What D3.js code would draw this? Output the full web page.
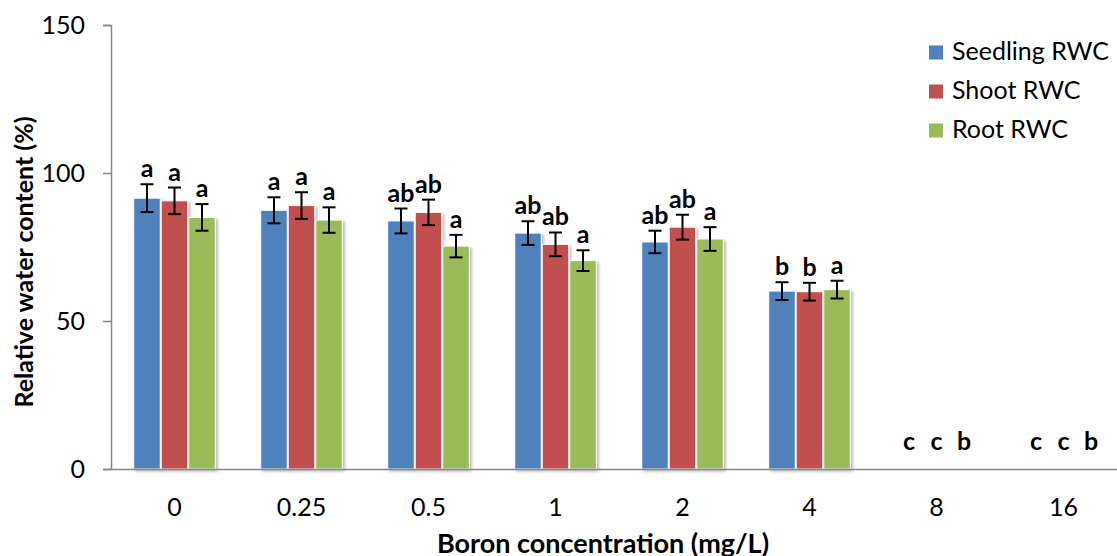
<!DOCTYPE html>
<html>
<head>
<meta charset="utf-8">
<script src="https://cdn.jsdelivr.net/npm/d3@7/dist/d3.min.js"></script>
<style>
  html, body { margin: 0; padding: 0; background: #fff; }
  svg { display: block; font-family: Lato, "Open Sans", sans-serif; }
</style>
</head>
<body>
<svg id="chart" width="1117" height="556"></svg>
<script>
// Boron concentrations (mg/L) on the x axis
const categories = ["0", "0.25", "0.5", "1", "2", "4", "8", "16"];
const seriesNames = ["Seedling RWC", "Shoot RWC", "Root RWC"];
const seriesColors = ["#4f81bd", "#c0504d", "#9bbb59"];

// Mean relative water content (%)
const seedlingRWC = [91.5, 87.4, 83.8, 79.7, 76.7, 60.1, 0, 0];
const shootRWC    = [90.6, 89.0, 86.7, 75.9, 81.7, 59.9, 0, 0];
const rootRWC     = [85.0, 84.1, 75.3, 70.4, 77.7, 60.6, 0, 0];

// Standard errors
const seedlingErr = [4.7, 4.4, 4.2, 4.0, 3.8, 3.0, 0, 0];
const shootErr    = [4.5, 4.5, 4.3, 4.0, 4.2, 3.0, 0, 0];
const rootErr     = [4.5, 4.3, 3.8, 3.5, 4.0, 3.0, 0, 0];

// Significance letters
const seedlingSig = ["a", "a", "ab", "ab", "ab", "b", "c", "c"];
const shootSig    = ["a", "a", "ab", "ab", "ab", "b", "c", "c"];
const rootSig     = ["a", "a", "a", "a", "a", "a", "b", "b"];

const yTicks = [0, 50, 100, 150];

const values = [seedlingRWC, shootRWC, rootRWC];
const errors = [seedlingErr, shootErr, rootErr];
const letters = [seedlingSig, shootSig, rootSig];

const svg = d3.select("#chart");
const plotLeft = 111, plotRight = 1127, plotTop = 25, plotBottom = 469;

const x = d3.scaleBand().domain(categories).range([plotLeft, plotRight]).paddingInner(0).paddingOuter(0);
const bw = x.bandwidth();
const xs = d3.scaleBand().domain(seriesNames).range([bw * 0.175, bw * 0.825]).padding(0);
const y = d3.scaleLinear().domain([0, 150]).range([plotBottom, plotTop]);

// soft drop shadow under bars
const defs = svg.append("defs");
const f = defs.append("filter").attr("id", "shadow").attr("x", "-20%").attr("y", "-10%").attr("width", "150%").attr("height", "130%");
f.append("feDropShadow").attr("dx", 2).attr("dy", 2).attr("stdDeviation", 1.6).attr("flood-color", "#000").attr("flood-opacity", 0.28);

// flatten into records
const records = [];
categories.forEach((c, i) => {
  seriesNames.forEach((s, j) => {
    records.push({ cat: c, series: s, j, value: values[j][i], err: errors[j][i], sig: letters[j][i] });
  });
});

const gBars = svg.append("g");
gBars.selectAll("rect")
  .data(records.filter(d => d.value > 0))
  .join("rect")
  .attr("x", d => x(d.cat) + xs(d.series) + 0.5)
  .attr("y", d => y(d.value))
  .attr("width", xs.bandwidth() - 1)
  .attr("height", d => y(0) - y(d.value))
  .attr("fill", d => seriesColors[d.j])
  .attr("stroke", "#fff")
  .attr("stroke-width", 1)
  .attr("filter", "url(#shadow)");

// error bars
const gErr = svg.append("g").attr("stroke", "#000").attr("stroke-width", 2);
const cx = d => x(d.cat) + xs(d.series) + xs.bandwidth() / 2;
records.filter(d => d.err > 0).forEach(d => {
  const xc = cx(d), y1 = y(d.value + d.err), y2 = y(d.value - d.err);
  gErr.append("line").attr("x1", xc).attr("x2", xc).attr("y1", y1).attr("y2", y2);
  gErr.append("line").attr("x1", xc - 6.5).attr("x2", xc + 6.5).attr("y1", y1).attr("y2", y1);
  gErr.append("line").attr("x1", xc - 6.5).attr("x2", xc + 6.5).attr("y1", y2).attr("y2", y2);
});

// significance letters
svg.append("g").selectAll("text")
  .data(records)
  .join("text")
  .attr("x", cx)
  .attr("y", d => d.value > 0 ? y(d.value + d.err) - 7 : y(0) - 19)
  .attr("text-anchor", "middle")
  .attr("font-size", 25)
  .attr("font-weight", "bold")
  .attr("fill", "#000")
  .text(d => d.sig);

// axes
const axisColor = "#868686";
const yAxis = svg.append("g")
  .attr("transform", `translate(${plotLeft},0)`)
  .call(d3.axisLeft(y).tickValues(yTicks).tickSize(8).tickPadding(18));
yAxis.select(".domain").attr("stroke", axisColor).attr("stroke-width", 1.5);
yAxis.selectAll(".tick line").attr("stroke", axisColor).attr("stroke-width", 1.5);
yAxis.selectAll(".tick text").attr("font-size", 25).attr("fill", "#000").attr("font-family", "Lato, sans-serif");

const xAxis = svg.append("g")
  .attr("transform", `translate(0,${plotBottom})`)
  .call(d3.axisBottom(x).tickSize(0).tickPadding(29).tickSizeOuter(0));
xAxis.select(".domain").attr("stroke", axisColor).attr("stroke-width", 1.5);
xAxis.selectAll(".tick text").attr("font-size", 25).attr("fill", "#000").attr("font-family", "Lato, sans-serif");

// axis titles
svg.append("text")
  .attr("transform", "translate(33,262) rotate(-90)")
  .attr("text-anchor", "middle")
  .attr("font-size", 25)
  .attr("font-weight", "bold")
  .text("Relative water content (%)");

svg.append("text")
  .attr("x", 603).attr("y", 553)
  .attr("text-anchor", "middle")
  .attr("font-size", 27)
  .attr("font-weight", "bold")
  .text("Boron concentration (mg/L)");

// legend
const legend = svg.append("g").attr("transform", "translate(929,52)");
seriesNames.forEach((s, j) => {
  const g = legend.append("g").attr("transform", `translate(0,${j * 39})`);
  g.append("rect").attr("x", 0).attr("y", -6.5).attr("width", 14).attr("height", 14).attr("fill", seriesColors[j]);
  g.append("text").attr("x", 23).attr("y", 8).attr("font-size", 25).attr("fill", "#000").text(s);
});
</script>
</body>
</html>
